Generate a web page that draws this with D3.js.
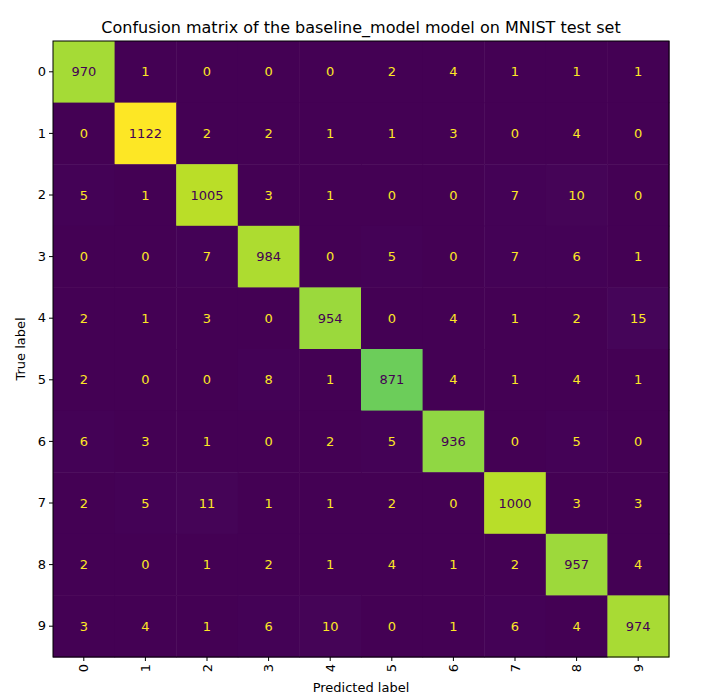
<!DOCTYPE html>
<html>
<head>
<meta charset="utf-8">
<script src="https://cdn.jsdelivr.net/npm/d3@7"></script>
<style>
  body { margin: 0; background: #fff; }
  text { font-family: "DejaVu Sans", sans-serif; }
</style>
</head>
<body>
<svg id="chart" width="715" height="696"></svg>
<script>
var labels = ["0","1","2","3","4","5","6","7","8","9"];
var matrix = [
  [970, 1, 0, 0, 0, 2, 4, 1, 1, 1],
  [0, 1122, 2, 2, 1, 1, 3, 0, 4, 0],
  [5, 1, 1005, 3, 1, 0, 0, 7, 10, 0],
  [0, 0, 7, 984, 0, 5, 0, 7, 6, 1],
  [2, 1, 3, 0, 954, 0, 4, 1, 2, 15],
  [2, 0, 0, 8, 1, 871, 4, 1, 4, 1],
  [6, 3, 1, 0, 2, 5, 936, 0, 5, 0],
  [2, 5, 11, 1, 1, 2, 0, 1000, 3, 3],
  [2, 0, 1, 2, 1, 4, 1, 2, 957, 4],
  [3, 4, 1, 6, 10, 0, 1, 6, 4, 974]
];

var plotLeft = 53, plotTop = 41, size = 616;
var svg = d3.select("#chart");

var x = d3.scaleBand().domain(labels).range([plotLeft, plotLeft + size]);
var y = d3.scaleBand().domain(labels).range([plotTop, plotTop + size]);
var maxV = d3.max(matrix, function(r){ return d3.max(r); });
var color = d3.scaleSequential(d3.interpolateViridis).domain([0, maxV]);

var cells = [];
matrix.forEach(function(row, i){
  row.forEach(function(v, j){ cells.push({r: labels[i], c: labels[j], v: v}); });
});

svg.selectAll("rect.cell").data(cells).enter().append("rect")
  .attr("x", function(d){ return x(d.c); })
  .attr("y", function(d){ return y(d.r); })
  .attr("width", x.bandwidth() + 0.5)
  .attr("height", y.bandwidth() + 0.5)
  .attr("fill", function(d){ return color(d.v); });

svg.selectAll("text.val").data(cells).enter().append("text")
  .attr("x", function(d){ return x(d.c) + x.bandwidth() / 2; })
  .attr("y", function(d){ return y(d.r) + y.bandwidth() / 2; })
  .attr("text-anchor", "middle")
  .attr("dominant-baseline", "central")
  .attr("font-size", "13px")
  .attr("fill", function(d){ return d.v > maxV / 2 ? "#440154" : "#fde725"; })
  .text(function(d){ return d.v; });

svg.append("rect")
  .attr("x", plotLeft).attr("y", plotTop).attr("width", size).attr("height", size)
  .attr("fill", "none").attr("stroke", "#000").attr("stroke-width", 1);

var xAxis = svg.append("g").attr("transform", "translate(0," + (plotTop + size) + ")")
  .call(d3.axisBottom(x).tickSize(4).tickSizeOuter(0));
xAxis.select(".domain").remove();
xAxis.selectAll("text")
  .attr("font-size", "13px")
  .attr("transform", "rotate(-90)")
  .attr("text-anchor", "end")
  .attr("dy", "0.35em")
  .attr("x", -7).attr("y", 0);

var yAxis = svg.append("g").attr("transform", "translate(" + plotLeft + ",0)")
  .call(d3.axisLeft(y).tickSize(4).tickSizeOuter(0));
yAxis.select(".domain").remove();
yAxis.selectAll("text").attr("font-size", "13px");
svg.selectAll(".tick text").attr("fill", "#000").style("font-family", "DejaVu Sans");

svg.append("text").attr("x", plotLeft + size / 2).attr("y", 692)
  .attr("text-anchor", "middle").attr("font-size", "13px").text("Predicted label");
svg.append("text").attr("transform", "translate(25," + (plotTop + size / 2) + ") rotate(-90)")
  .attr("text-anchor", "middle").attr("font-size", "13px").text("True label");
svg.append("text").attr("x", 361).attr("y", 33)
  .attr("text-anchor", "middle").attr("font-size", "16px")
  .text("Confusion matrix of the baseline_model model on MNIST test set");
</script>
</body>
</html>
